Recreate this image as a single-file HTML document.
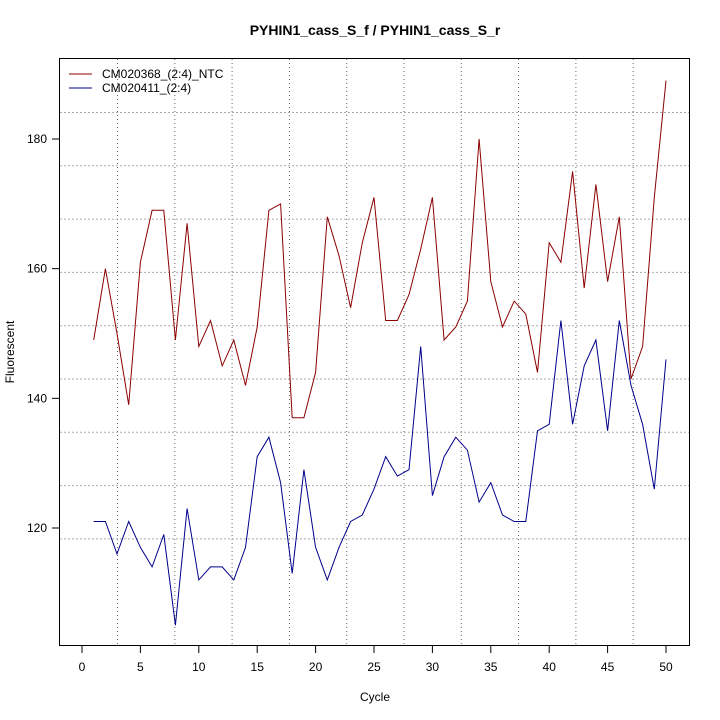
<!DOCTYPE html>
<html><head><meta charset="utf-8"><style>body{margin:0;background:#fff}svg{display:block}text{font-family:"Liberation Sans",sans-serif;fill:#000}</style></head>
<body>
<svg id="s" width="720" height="720" xmlns="http://www.w3.org/2000/svg">
<rect width="720" height="720" fill="#fff"/>
<g id="gridv" stroke="#666" stroke-dasharray="1,3" stroke-width="1"></g>
<g id="gridh" stroke="#aaa" stroke-dasharray="2,2" stroke-width="1"></g>
<rect x="59.5" y="58.5" width="630" height="587" fill="none" stroke="#000"/>
<g id="ax" stroke="#000"></g>
<g id="lines"></g>
<text x="375" y="35" font-size="14" font-weight="bold" text-anchor="middle">PYHIN1_cass_S_f / PYHIN1_cass_S_r</text>
<text x="375" y="701" font-size="12" text-anchor="middle">Cycle</text>
<text transform="translate(14,352) rotate(-90)" font-size="12" text-anchor="middle">Fluorescent</text>
<line x1="69" y1="74" x2="92" y2="74" stroke="#8b0000"/>
<line x1="69" y1="88" x2="92" y2="88" stroke="#00008b"/>
<text x="102" y="78" font-size="12">CM020368_(2:4)_NTC</text>
<text x="102" y="92" font-size="12">CM020411_(2:4)</text>
</svg>
<script>
const ns="http://www.w3.org/2000/svg";
function el(p,t,a,txt){const e=document.createElementNS(ns,t);for(const k in a)e.setAttribute(k,a[k]);if(txt!==undefined)e.textContent=txt;p.appendChild(e);return e;}
const X=c=>82+c*11.68, Y=v=>528-(v-120)*6.483;
const gv=document.getElementById('gridv'),gh=document.getElementById('gridh'),ax=document.getElementById('ax'),L=document.getElementById('lines'),s=document.getElementById('s');
for(let i=0;i<10;i++){const x=117.5+i*57.3;el(gv,'line',{x1:x,y1:59,x2:x,y2:645});}
for(let i=0;i<9;i++){const y=112.5+i*53.3;el(gh,'line',{x1:60,y1:y,x2:689,y2:y});}
for(let c=0;c<=50;c+=5){const x=X(c);el(ax,'line',{x1:x,y1:646,x2:x,y2:653});el(s,'text',{x:x,y:671,'font-size':12,'text-anchor':'middle'},c);}
for(let v=120;v<=180;v+=20){const y=Y(v);el(ax,'line',{x1:52,y1:y,x2:59,y2:y});el(s,'text',{x:47,y:y+4,'font-size':12,'text-anchor':'end'},v);}
const r=[149,160,150,139,161,169,169,149,167,148,152,145,149,142,151,169,170,137,137,144,168,162,154,164,171,152,152,156,163,171,149,151,155,180,158,151,155,153,144,164,161,175,157,173,158,168,143,148,171,189];
const b=[121,121,116,121,117,114,119,105,123,112,114,114,112,117,131,134,127,113,129,117,112,117,121,122,126,131,128,129,148,125,131,134,132,124,127,122,121,121,135,136,152,136,145,149,135,152,142,136,126,146];
const pts=a=>a.map((v,i)=>X(i+1).toFixed(1)+','+Y(v).toFixed(1)).join(' ');
el(L,'polyline',{points:pts(r),fill:'none',stroke:'#8b0000','stroke-width':1});
el(L,'polyline',{points:pts(b),fill:'none',stroke:'#00008b','stroke-width':1});
</script>
</body></html>
